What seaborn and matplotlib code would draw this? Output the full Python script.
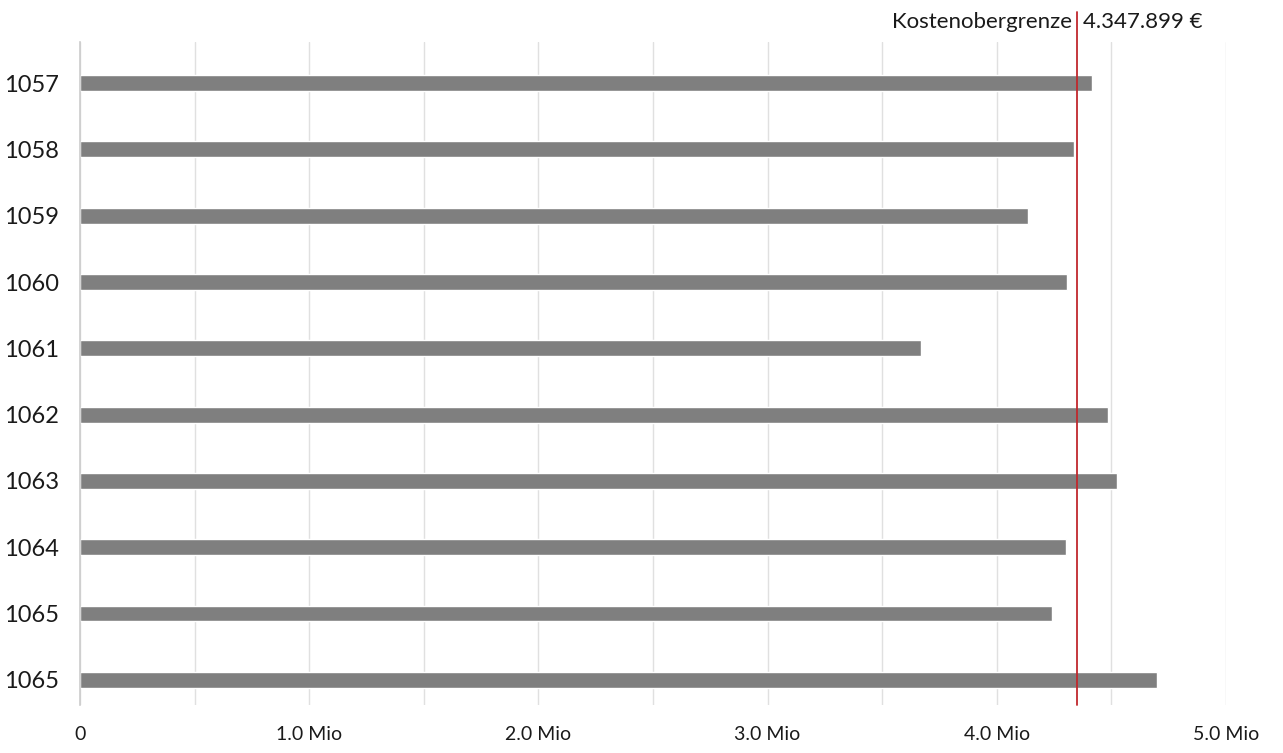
import matplotlib
matplotlib.use("Agg")
import matplotlib.pyplot as plt
import pandas as pd
import seaborn as sns

# bar labels (last one is duplicated in the original chart)
labels = ["1057", "1058", "1059", "1060", "1061",
          "1062", "1063", "1064", "1065", "1065"]
costs = [4415000, 4336000, 4135000, 4306000, 3668000,
         4485000, 4524000, 4301000, 4240000, 4699000]
cost_cap = 4347899
x_ticks = [0, 500000, 1000000, 1500000, 2000000, 2500000,
           3000000, 3500000, 4000000, 4500000, 5000000]
x_labels = ["0", "", "1.0 Mio", "", "2.0 Mio", "",
            "3.0 Mio", "", "4.0 Mio", "", "5.0 Mio"]

sns.set_theme(style="white")
plt.rcParams["font.family"] = ["Lato", "DejaVu Sans"]

df = pd.DataFrame({"key": [f"r{i}" for i in range(len(labels))],
                   "cost": costs})

fig = plt.figure(figsize=(12.83, 7.53), dpi=100)
ax = fig.add_axes([80 / 1283, 1 - 705 / 753, (1226 - 80) / 1283, (705 - 42) / 753])

sns.barplot(data=df, x="cost", y="key", orient="h", color="#7f7f7f",
            saturation=1, width=0.24, ax=ax)

ax.set_xlim(0, 5000000)
ax.set_ylim(9.38, -0.62)
ax.set_xticks(x_ticks)
ax.set_xticklabels(x_labels, fontsize=14, color="#1a1a1a")
ax.set_yticks(range(len(labels)))
ax.set_yticklabels(labels, fontsize=17, color="#1a1a1a")
ax.tick_params(axis="x", length=0, pad=15)
ax.tick_params(axis="y", length=0, pad=15)
ax.set_xlabel("")
ax.set_ylabel("")
ax.grid(True, axis="x", color="#e0e0e0", linewidth=1)
ax.set_axisbelow(True)
for s in ["top", "right", "bottom"]:
    ax.spines[s].set_visible(False)
ax.spines["left"].set_color("#cccccc")
ax.spines["left"].set_linewidth(1.2)

# cost cap line, reaching above the plot area
ax.plot([cost_cap, cost_cap], [9.38, -1.08], color="#c0282d", linewidth=1.3,
        clip_on=False, zorder=5)
ax.text(cost_cap - 20000, -0.92, "Kostenobergrenze", ha="right", va="center",
        fontsize=16, color="#1a1a1a")
ax.text(cost_cap + 30000, -0.92, "4.347.899 €", ha="left", va="center",
        fontsize=16, color="#1a1a1a")

fig.savefig("out.png", dpi=100)
